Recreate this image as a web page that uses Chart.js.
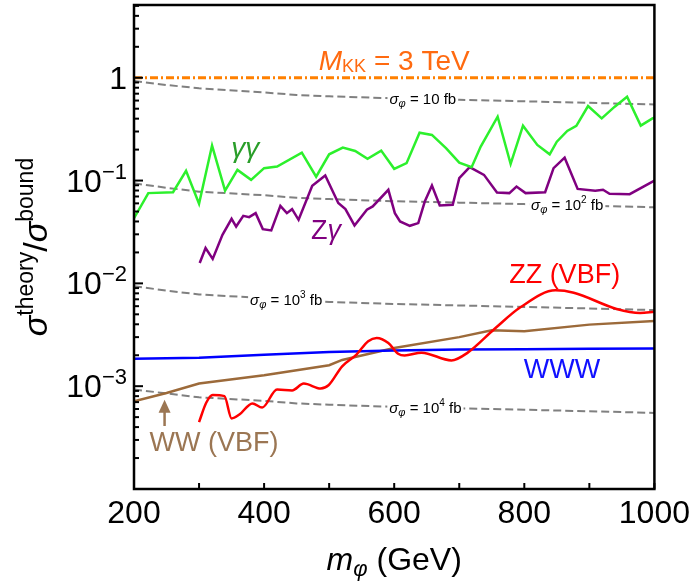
<!DOCTYPE html>
<html>
<head>
<meta charset="utf-8">
<script src="https://cdn.jsdelivr.net/npm/chart.js@4.4.1/dist/chart.umd.min.js"></script>
<style>
html, body { margin: 0; padding: 0; background: #fff; }
</style>
</head>
<body>
<canvas id="myChart" width="696" height="581"></canvas>
<script>
// tick labels
const xTickValues = [200, 400, 600, 800, 1000];
const yTickValues = [1, 1e-1, 1e-2, 1e-3];
const yTickBases = ['1', '10', '10', '10'];
const yTickExps = ['', '\u22121', '\u22122', '\u22123'];

// gamma gamma
const ggMass = [200, 222, 260, 280, 300, 320, 340, 359, 380, 400, 420, 458, 480, 500, 521, 540, 559, 580, 600, 619, 639, 658, 680, 700, 719, 733, 759, 779, 798, 820, 839, 850, 866, 880, 898, 919, 939, 958, 979, 997, 1000];
const ggRatio = [0.043, 0.0755, 0.077, 0.1245, 0.0594, 0.219, 0.080, 0.127, 0.1016, 0.132, 0.137, 0.187, 0.109, 0.180, 0.209, 0.194, 0.1625, 0.1955, 0.130, 0.1476, 0.292, 0.278, 0.206, 0.1496, 0.135, 0.214, 0.418, 0.145, 0.342, 0.222, 0.180, 0.239, 0.304, 0.340, 0.531, 0.403, 0.523, 0.654, 0.342, 0.403, 0.41];

// Z gamma
const zgMass = [301, 310, 321, 336, 350, 357, 368, 377, 387, 398, 411, 425, 435, 443, 453, 474, 494, 514, 525, 539, 558, 567, 591, 601, 609, 624, 637, 647, 658, 670, 690, 700, 716, 738, 758, 777, 788, 802, 832, 845, 862, 882, 909, 921, 931, 962, 1000];
const zgRatio = [0.0158, 0.0221, 0.0173, 0.0297, 0.0425, 0.0357, 0.0454, 0.0441, 0.0482, 0.0337, 0.0327, 0.0568, 0.0482, 0.0527, 0.0415, 0.0889, 0.112, 0.0604, 0.0527, 0.0366, 0.052, 0.056, 0.0813, 0.0482, 0.040, 0.0363, 0.0386, 0.0625, 0.0894, 0.0572, 0.0581, 0.1055, 0.135, 0.1136, 0.0765, 0.0755, 0.0875, 0.0755, 0.0771, 0.132, 0.167, 0.083, 0.0794, 0.0813, 0.0743, 0.0738, 0.1];

// ZZ (VBF)
const zzMass = [300, 311, 321, 339, 350, 362, 382, 397, 420, 443, 461, 487, 499, 520, 542, 560, 573, 591, 606, 616, 642, 688, 713, 754, 794, 848, 876, 942, 978, 1000];
const zzRatio = [4.47e-4, 6.9e-4, 8.2e-4, 8.0e-4, 4.86e-4, 5.3e-4, 6.8e-4, 6.2e-4, 9.3e-4, 9.1e-4, 1.06e-3, 9.5e-4, 1.02e-3, 1.56e-3, 2.03e-3, 2.74e-3, 2.95e-3, 2.63e-3, 2.07e-3, 1.99e-3, 2.12e-3, 1.78e-3, 2.12e-3, 3.6e-3, 5.85e-3, 8.55e-3, 8.1e-3, 5.64e-3, 5.16e-3, 5.3e-3];

// WWW
const wwwMass = [200, 300, 400, 500, 600, 700, 800, 900, 1000];
const wwwRatio = [1.85e-3, 1.89e-3, 2.02e-3, 2.15e-3, 2.23e-3, 2.27e-3, 2.29e-3, 2.31e-3, 2.32e-3];

// WW (VBF)
const wwMass = [200, 250, 300, 400, 500, 520, 600, 700, 750, 800, 900, 1000];
const wwRatio = [7.15e-4, 8.6e-4, 1.06e-3, 1.28e-3, 1.6e-3, 1.8e-3, 2.35e-3, 3.0e-3, 3.5e-3, 3.42e-3, 3.97e-3, 4.3e-3];

// M_KK = 3 TeV
const kkMass = [200, 1000];
const kkRatio = [1, 1];

// fixed sigma contours
const sigMass = [200, 250, 300, 400, 450, 500, 600, 700, 800, 900, 1000];
const sig10 = [0.93, 0.85, 0.79, 0.72, 0.68, 0.66, 0.63, 0.61, 0.59, 0.57, 0.55];
const sig100 = [0.094, 0.085, 0.078, 0.072, 0.068, 0.066, 0.063, 0.061, 0.059, 0.057, 0.055];
const sig1000 = [0.0094, 0.0085, 0.0078, 0.0072, 0.0068, 0.0066, 0.0063, 0.0061, 0.0059, 0.0057, 0.0055];
const sig10000 = [0.00093, 0.00085, 0.00078, 0.00072, 0.00068, 0.00066, 0.00063, 0.00061, 0.00059, 0.00057, 0.00055];

const FONT = '"Liberation Sans", Arial, sans-serif';
const pts = (xs, ys) => xs.map((x, i) => ({ x: x, y: ys[i] }));

function line(data, color, width, extra) {
  return Object.assign({ data: data, borderColor: color, borderWidth: width, pointRadius: 0, fill: false, tension: 0 }, extra || {});
}

const datasets = [
  line(pts(kkMass, kkRatio), '#ff8000', 3, { borderDash: [8, 3, 2, 3] }),
  line(pts(ggMass, ggRatio), '#2cf02c', 2.5),
  line(pts(zgMass, zgRatio), '#800080', 2.5),
  line(pts(zzMass, zzRatio), '#ff0000', 2.5, { cubicInterpolationMode: 'monotone' }),
  line(pts(wwwMass, wwwRatio), '#0000ff', 2.5),
  line(pts(wwMass, wwRatio), '#9c6a3a', 2.5),
  line(pts(sigMass, sig10), '#808080', 2, { borderDash: [8, 4] }),
  line(pts(sigMass, sig100), '#808080', 2, { borderDash: [8, 4] }),
  line(pts(sigMass, sig1000), '#808080', 2, { borderDash: [8, 4] }),
  line(pts(sigMass, sig10000), '#808080', 2, { borderDash: [8, 4] })
];
const firstSigmaIndex = 6;

function fontOf(p) { return (p.it ? 'italic ' : '') + p.s + 'px ' + FONT; }
function measureRich(ctx, parts) {
  let w = 0;
  parts.forEach(p => { ctx.font = fontOf(p); p.w = ctx.measureText(p.t).width; w += p.w; });
  return w;
}
function drawRich(ctx, parts, x, y, align, color) {
  const w = measureRich(ctx, parts);
  let cx = align === 'center' ? x - w / 2 : (align === 'right' ? x - w : x);
  ctx.textAlign = 'left';
  ctx.textBaseline = 'alphabetic';
  parts.forEach(p => {
    ctx.font = fontOf(p);
    ctx.fillStyle = p.c || color;
    ctx.fillText(p.t, cx, y + (p.dy || 0));
    cx += p.w;
  });
  return w;
}
function interp(xs, ys, x) {
  for (let i = 1; i < xs.length; i++) {
    if (x <= xs[i]) {
      const t = (x - xs[i - 1]) / (xs[i] - xs[i - 1]);
      return Math.exp(Math.log(ys[i - 1]) + t * (Math.log(ys[i]) - Math.log(ys[i - 1])));
    }
  }
  return ys[ys.length - 1];
}

const sigmaLabels = [
  { x: 644, ys: sig10, exp: '' , num: '10' },
  { x: 866, ys: sig100, exp: '2', num: '10' },
  { x: 434, ys: sig1000, exp: '3', num: '10' },
  { x: 648, ys: sig10000, exp: '4', num: '10' }
];

const notes = [
  { x: 600, y: 1.19, color: '#ff6a10', parts: [{ t: 'M', s: 28, it: true }, { t: 'KK', s: 18, dy: 2 }, { t: ' = 3 TeV', s: 28 }] },
  { x: 371, y: 0.17, color: '#2a9e2a', parts: [{ t: '\u03b3\u03b3', s: 28, it: true }] },
  { x: 495, y: 0.0272, color: '#800080', parts: [{ t: 'Z', s: 27 }, { t: '\u03b3', s: 27, it: true }] },
  { x: 862, y: 0.0101, color: '#ff0000', parts: [{ t: 'ZZ (VBF)', s: 27 }] },
  { x: 858, y: 1.21e-3, color: '#1010ff', parts: [{ t: 'WWW', s: 27 }] },
  { x: 323, y: 2.34e-4, color: '#9b7653', parts: [{ t: 'WW (VBF)', s: 27 }] }
];

const decor = {
  id: 'decor',
  afterDatasetDraw(chart, args) {
    if (args.index !== firstSigmaIndex) return;
    const ctx = chart.ctx, xs = chart.scales.x, ys = chart.scales.y;
    ctx.save();
    sigmaLabels.forEach(l => {
      const parts = [{ t: '\u03c3', s: 15, it: true }, { t: '\u03c6', s: 11, it: true, dy: 3 }, { t: ' = ' + l.num, s: 15 }];
      if (l.exp) parts.push({ t: l.exp, s: 10, dy: -7 });
      parts.push({ t: ' fb', s: 15 });
      const px = xs.getPixelForValue(l.x);
      const py = ys.getPixelForValue(interp(sigMass, l.ys, l.x));
      const w = measureRich(ctx, parts);
      ctx.fillStyle = '#fff';
      ctx.fillRect(px - w / 2 - 2, py - 8, w + 4, 16);
      drawRich(ctx, parts, px, py + 5, 'center', '#000');
    });
    ctx.restore();
  },
  afterDraw(chart) {
    const ctx = chart.ctx, xs = chart.scales.x, ys = chart.scales.y;
    const a = chart.chartArea;
    ctx.save();
    // annotations
    notes.forEach(n => {
      drawRich(ctx, n.parts, xs.getPixelForValue(n.x), ys.getPixelForValue(n.y), 'center', n.color);
    });
    // arrow for WW (VBF)
    const ax = xs.getPixelForValue(247);
    const ay0 = ys.getPixelForValue(4.1e-4), ay1 = ys.getPixelForValue(7.4e-4);
    ctx.strokeStyle = '#9b7653';
    ctx.fillStyle = '#9b7653';
    ctx.lineWidth = 2.5;
    ctx.beginPath(); ctx.moveTo(ax, ay0); ctx.lineTo(ax, ay1 + 10); ctx.stroke();
    ctx.beginPath(); ctx.moveTo(ax, ay1); ctx.lineTo(ax - 6, ay1 + 13); ctx.lineTo(ax + 6, ay1 + 13); ctx.closePath(); ctx.fill();

    // ticks
    ctx.strokeStyle = '#000';
    ctx.lineWidth = 2;
    for (let v = 200; v <= 1000; v += 100) {
      const px = xs.getPixelForValue(v);
      ctx.beginPath(); ctx.moveTo(px, a.bottom); ctx.lineTo(px, a.bottom - 6); ctx.stroke();
    }
    for (let e = -4; e <= 0; e++) {
      for (let m = 1; m <= 9; m++) {
        const v = m * Math.pow(10, e);
        if (v < ys.min || v > ys.max) continue;
        const py = ys.getPixelForValue(v);
        ctx.beginPath(); ctx.moveTo(a.left, py); ctx.lineTo(a.left + (m === 1 ? 9 : 5), py); ctx.stroke();
      }
    }
    // frame
    ctx.lineWidth = 2.5;
    ctx.strokeRect(a.left, a.top, a.right - a.left, a.bottom - a.top);

    // y tick labels
    yTickValues.forEach((v, i) => {
      const py = ys.getPixelForValue(v) + 11;
      const parts = [{ t: yTickBases[i], s: 32 }];
      if (yTickExps[i]) parts.push({ t: yTickExps[i], s: 22, dy: -13 });
      drawRich(ctx, parts, 127, py, 'right', '#000');
    });

    // y title
    ctx.save();
    ctx.translate(47, (a.top + a.bottom) / 2);
    ctx.rotate(-Math.PI / 2);
    drawRich(ctx, [
      { t: '\u03c3', s: 34, it: true }, { t: 'theory', s: 23, dy: -14 },
      { t: '/', s: 34 },
      { t: '\u03c3', s: 34, it: true }, { t: 'bound', s: 23, dy: -14 }
    ], 0, 0, 'center', '#000');
    ctx.restore();

    // x title
    drawRich(ctx, [
      { t: 'm', s: 32, it: true }, { t: '\u03c6', s: 22, it: true, dy: 6 }, { t: ' (GeV)', s: 32 }
    ], (a.left + a.right) / 2, 570, 'center', '#000');
    ctx.restore();
  }
};

Chart.defaults.font.family = FONT;

const thisChart = new Chart(document.getElementById('myChart').getContext('2d'), {
  type: 'line',
  data: { datasets: datasets },
  options: {
    responsive: false,
    animation: false,
    events: [],
    layout: { padding: { top: 5, right: 38, left: 0, bottom: 0 } },
    plugins: { legend: { display: false }, tooltip: { enabled: false } },
    scales: {
      x: {
        type: 'linear', min: 200, max: 1000,
        grid: { display: false, drawTicks: false },
        border: { display: false },
        afterBuildTicks: s => { s.ticks = xTickValues.map(v => ({ value: v })); },
        afterFit: s => { s.height = 92; },
        ticks: { color: '#000', font: { size: 32 }, padding: 6, maxRotation: 0, autoSkip: false, callback: v => String(v) }
      },
      y: {
        type: 'logarithmic', min: 1e-4, max: 5.1,
        grid: { display: false, drawTicks: false },
        border: { display: false },
        ticks: { display: false },
        afterFit: s => { s.width = 134; }
      }
    }
  },
  plugins: [decor]
});
</script>
</body>
</html>
